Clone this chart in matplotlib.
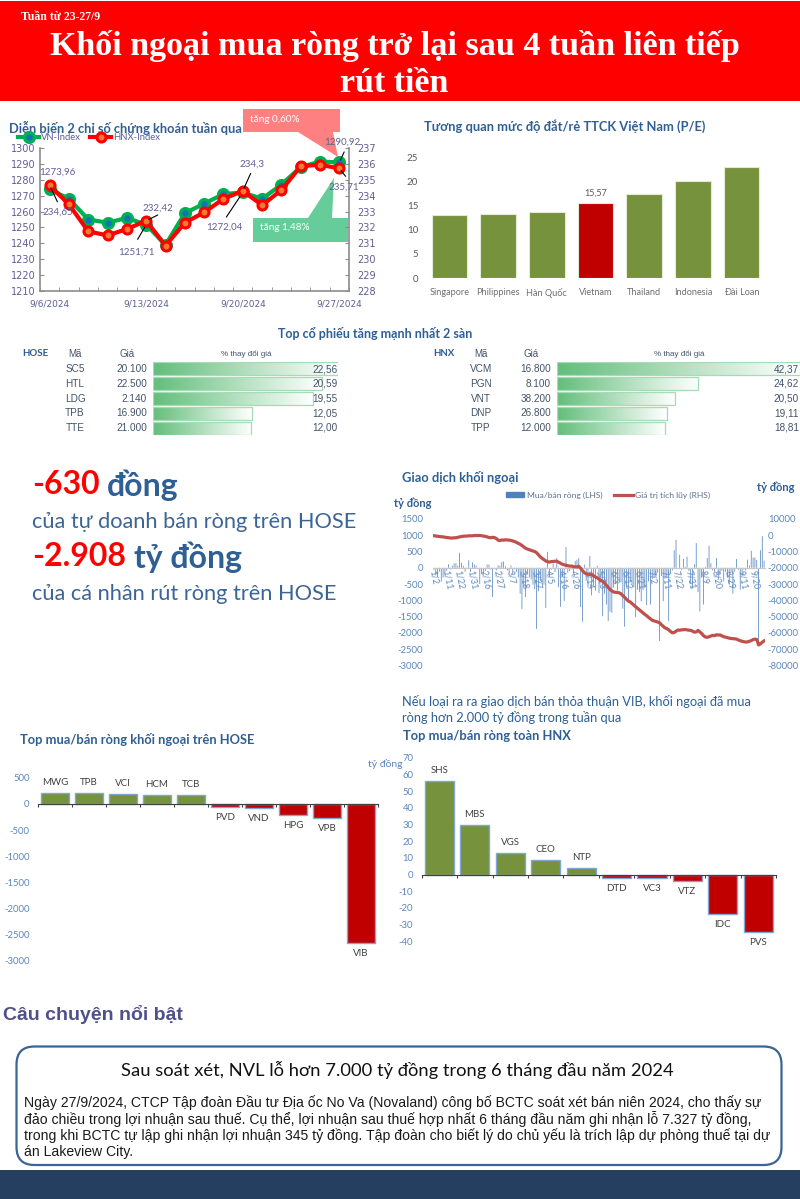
import matplotlib
matplotlib.use("Agg")
import matplotlib.pyplot as plt
import numpy as np
from matplotlib.colors import LinearSegmentedColormap
from matplotlib.patches import FancyBboxPatch

plt.rcParams["axes.unicode_minus"] = False

W, H = 800, 1199
SANS = ["Lato", "Open Sans", "DejaVu Sans"]
NAVY = "#2F5F94"
GREEN = "#76923C"
RED = "#C00000"
TICK_BLUE = "#5B86BD"

DATES = ["9/6/2024", "9/13/2024", "9/20/2024", "9/27/2024"]
VN_INDEX = [1273.96, 1268, 1255, 1253, 1256, 1251.71, 1239, 1259, 1265, 1271, 1272.04, 1268, 1277, 1288, 1291.5, 1290.92]
HNX_INDEX = [234.65, 233.45, 231.75, 231.5, 231.9, 232.42, 230.85, 232.3, 232.95, 233.8, 234.3, 233.4, 234.35, 235.85, 235.95, 235.71]

PE = {"Singapore": 13.0, "Philippines": 13.3, "Hàn Quốc": 13.6, "Vietnam": 15.57,
      "Thailand": 17.5, "Indonesia": 20.1, "Đài Loan": 23.0}

TOP_HOSE = [("SC5", "20.100", 22.56), ("HTL", "22.500", 20.59), ("LDG", "2.140", 19.55),
            ("TPB", "16.900", 12.05), ("TTE", "21.000", 12.00)]
TOP_HNX = [("VCM", "16.800", 42.37), ("PGN", "8.100", 24.62), ("VNT", "38.200", 20.50),
           ("DNP", "26.800", 19.11), ("TPP", "12.000", 18.81)]

NET_HOSE = {"MWG": 215, "TPB": 210, "VCI": 190, "HCM": 175, "TCB": 175,
            "PVD": -55, "VND": -80, "HPG": -220, "VPB": -265, "VIB": -2660}
NET_HNX = {"SHS": 56, "MBS": 29.5, "VGS": 13, "CEO": 9, "NTP": 4,
           "DTD": -2, "VC3": -2.3, "VTZ": -3.8, "IDC": -23.5, "PVS": -34.5}

FLOW_TICKS = ["1/2", "1/11", "1/22", "1/31", "2/16", "2/27", "3/7", "3/18", "3/27", "4/5", "4/16", "4/26", "5/14",
              "5/23", "6/3", "6/12", "6/21", "7/2", "7/11", "7/22", "7/31", "8/9", "8/20", "8/29", "9/11", "9/20"]
FLOW_NET = [-60, -230, -280, -120, -420, -300, -180, -90, 110, -50,
            60, 130, 140, 60, 460, 150, 60, -120, 10, 230,
            -130, 170, 100, 70, -30, -500, -200, -160, -100, 100,
            100, -60, -900, -30, -80, 70, 60, 180, 190, 50,
            -80, -150, 70, -190, -40, -130, -300, -800, -1270, -560,
            -900, -200, -300, -350, -520, -660, -1880, -720, -400, -500,
            -520, -1240, 490, -300, -60, 130, -130, 300, -600, -1200,
            -280, -1020, 640, -150, -100, -50, -180, 210, 250, 300,
            -1210, -1660, 100, -400, -600, 360, -850, -550, -700, 60,
            -780, -450, -1490, -800, -1130, -1640, -1350, -1380, -600, -500,
            -700, -400, -450, -1260, -1815, -550, -1060, -420, -500, -600,
            -1520, -680, -750, -1030, -680, -620, -1150, -420, -1130, -350,
            -300, -280, -150, -2250, -250, -1030, -340, -310, -1640, -200,
            -80, 540, 860, -30, 400, -60, 270, 30, 340, -100,
            -500, -640, 110, 760, -750, -1340, -300, -1130, 30, 300,
            680, 140, -80, -120, 300, -370, -200, -90, -420, -120,
            -300, -520, -100, -800, -120, 270, -60, -670, -250, -50,
            -80, 250, 70, 520, 310, 320, 240, -2400, 540, 970, 220]
FLOW_CUM = [-300, -500, -600, -800, -900, -1000, -1200, -1400, -1500, -1700,
            -1700, -1600, -1500, -1300, -1000, -800, -600, -500, -500, -300,
            -400, -300, -200, -100, -200, -100, -300, -500, -700, -1000,
            -1400, -1500, -1300, -1400, -2000, -3000, -3300, -2900, -3000, -2800,
            -2900, -3000, -3200, -3500, -3900, -4400, -5000, -5500, -6300, -7200,
            -8000, -8500, -8900, -9300, -9700, -10000, -10800, -12000, -13300, -14200,
            -15000, -15800, -16300, -16500, -16200, -16100, -16000, -16000, -16600, -17200,
            -17800, -18200, -18500, -18700, -19000, -18900, -19300, -19400, -19500, -19100,
            -20300, -21800, -23000, -23700, -23900, -24300, -24200, -24900, -25600, -26200,
            -27000, -27800, -28300, -29500, -30800, -32200, -33300, -34300, -34900, -35100,
            -35200, -35400, -36000, -37200, -38200, -39400, -40500, -41000, -42000, -43000,
            -44000, -44900, -45900, -46800, -47800, -48700, -49500, -50500, -51400, -52300,
            -52700, -53000, -53400, -53800, -55000, -56000, -57000, -57400, -58200, -59200,
            -60000, -59800, -59000, -58300, -58400, -58200, -58100, -58000, -58200, -58400,
            -58500, -59000, -59600, -59500, -58500, -59500, -60500, -61800, -62600, -62800,
            -62400, -62000, -61600, -61800, -61200, -61400, -61300, -61900, -62400, -62700,
            -63000, -63300, -63500, -63600, -63700, -63900, -64400, -64900, -65200, -65500,
            -65700, -65600, -65200, -64800, -64200, -63900, -64100, -67500, -66800, -65800, -65000]

BODY = ["Ngày 27/9/2024, CTCP Tập đoàn Đầu tư Địa ốc No Va (Novaland) công bố BCTC soát xét bán niên 2024, cho thấy sự",
        "đảo chiều trong lợi nhuận sau thuế. Cụ thể, lợi nhuận sau thuế hợp nhất 6 tháng đầu năm ghi nhận lỗ 7.327 tỷ đồng,",
        "trong khi BCTC tự lập ghi nhận lợi nhuận 345 tỷ đồng. Tập đoàn cho biết lý do chủ yếu là trích lập dự phòng thuế tại dự",
        "án Lakeview City."]


def axes_px(x0, y0, x1, y1):
    return plt.axes([x0 / W, 1 - y1 / H, (x1 - x0) / W, (y1 - y0) / H])


def label(x, y, s, **kw):
    kw.setdefault("va", "center")
    kw.setdefault("family", SANS)
    plt.figtext(x / W, 1 - y / H, s, **kw)


def note(i, v, s, line_end, text_at):
    # px offsets from the point: end of the leader line, centre of the text
    plt.annotate("", (i, v), xytext=line_end, textcoords="offset pixels",
                 arrowprops=dict(arrowstyle="-", color="black", lw=0.8))
    plt.annotate(s, (i, v), xytext=text_at, textcoords="offset pixels", ha="center", va="center",
                 fontsize=7, color="#5F5F97", family=SANS)


def index_chart():
    ax = axes_px(40, 148, 349, 291)
    ax.patch.set_alpha(0)
    vn, = plt.plot(VN_INDEX, color="#00B050", lw=3, marker="o", ms=7, mfc="#0F74BC", mec="#00B050", mew=2.4, label="VN-Index")
    plt.xlim(-0.5, 15.5)
    plt.ylim(1210, 1300)
    plt.yticks(range(1210, 1301, 10), fontsize=7, color="#5F5F97")
    plt.xticks([0, 5, 10, 15], DATES, fontsize=6.5, color="#5F5F97")
    ax.set_xticks(np.arange(-0.5, 16), minor=True)
    ax.tick_params(which="major", axis="x", length=0, pad=6)
    ax.tick_params(which="minor", axis="x", direction="in", length=3, color="#8C8C8C")
    ax.tick_params(axis="y", direction="in", length=3, color="#8C8C8C", pad=3)
    ax.spines["top"].set_visible(False)
    for side in ["left", "right", "bottom"]:
        ax.spines[side].set_color("#8C8C8C")
        ax.spines[side].set_linewidth(1.2)
    note(0, VN_INDEX[0], "1273,96", (6, 9), (8, 17))
    note(5, VN_INDEX[5], "1251,71", (-10, -17), (-10, -27))
    note(10, VN_INDEX[10], "1272,04", (-18, -27), (-18, -35))
    note(15, VN_INDEX[15], "1290,92", (6, 13), (3, 20))

    ax2 = plt.twinx()
    hnx, = plt.plot(HNX_INDEX, color="#FF0000", lw=3, marker="o", ms=6.5, mfc="#ED7D31", mec="#FF0000", mew=2.2, label="HNX-Index")
    plt.ylim(228, 237)
    plt.yticks(range(228, 238), fontsize=7, color="#5F5F97")
    ax2.tick_params(axis="y", direction="in", length=3, color="#8C8C8C", pad=6)
    ax2.spines["top"].set_visible(False)
    for side in ["left", "right", "bottom"]:
        ax2.spines[side].set_visible(False)
    note(0, HNX_INDEX[0], "234,65", (9, -19), (8, -27))
    note(5, HNX_INDEX[5], "232,42", (14, 7), (12, 13))
    note(10, HNX_INDEX[10], "234,3", (9, 20), (9, 27))
    note(15, HNX_INDEX[15], "235,71", (8, -10), (4, -19))
    plt.figlegend([vn, hnx], ["VN-Index", "HNX-Index"], loc="center", bbox_to_anchor=(89 / W, 1 - 137.5 / H), ncol=2, frameon=False,
                  labelcolor="#5F5F97", columnspacing=1.0, handlelength=2.2, handletextpad=0.2,
                  prop=dict(family=SANS, size=6.8))


def pe_chart():
    ax = axes_px(425, 157.3, 766, 278)
    names = list(PE)
    colors = [RED if n == "Vietnam" else GREEN for n in names]
    plt.bar(names, list(PE.values()), width=0.73, color=colors, edgecolor="#E4EAD8", lw=0.8)
    plt.xlim(-0.5, 6.5)
    plt.ylim(0, 25)
    plt.yticks(range(0, 26, 5), fontsize=7, color="#595959", family=SANS)
    plt.xticks(fontsize=6.6, color="#6F6F6F", family=SANS)
    ax.tick_params(length=0, pad=7)
    ax.tick_params(axis="y", pad=5)
    for side in ax.spines.values():
        side.set_visible(False)
    plt.annotate("15,57", (3, PE["Vietnam"]), xytext=(0, 7), textcoords="offset points", ha="center", va="center",
                 fontsize=6.5, color="#595959", family=SANS)


def top_table(rows, tag, x_tag, x_code, x_price, x_head, x_bar, bar_right, x_val):
    cmap = LinearSegmentedColormap.from_list("bar", ["#63BE7B", "#FFFFFF"])
    axes_px(x_bar, 361.6, bar_right, 435.4)
    top = rows[0][2]
    for i, (code, price, pct) in enumerate(rows):
        plt.imshow(np.linspace(0, 1, 128).reshape(1, -1), extent=(0, pct, i + 0.44, i - 0.44), aspect="auto", cmap=cmap, vmin=0, vmax=1)
        plt.barh(i, pct, height=0.88, fill=False, edgecolor="#A5DCB6", lw=0.9)
        y = 369 + 14.75 * i
        label(x_code, y, code, ha="center", fontsize=7.2, color="#44546A", family="Liberation Sans")
        label(x_price, y, price, ha="right", fontsize=7.2, color="#44546A", family="Liberation Sans")
        label(x_val, y, f"{pct:.2f}".replace(".", ","), ha="right", fontsize=7.2, color="#44546A", family="Liberation Sans")
    plt.xlim(0, top)
    plt.ylim(4.5, -0.5)
    plt.axis("off")
    label(x_tag, 354, tag, ha="center", fontsize=7, fontweight="bold", color="#2F5F94")
    label(x_code, 354, "Mã", ha="center", fontsize=7, color="#44546A", family="Liberation Sans")
    label(x_price - 20, 354, "Giá", ha="center", fontsize=7, color="#44546A", family="Liberation Sans")
    label(x_head, 354, "% thay đổi giá", ha="center", fontsize=5.8, color="#44546A", family="Liberation Sans")


def flow_chart():
    ax = axes_px(433, 519, 765, 665.3)
    ax.spines["bottom"].set_position(("data", 0))  # resets tick styles, so it goes first
    plt.bar(range(len(FLOW_NET)), FLOW_NET, width=0.4, color="#4F81BD", snap=False)
    plt.xlim(-0.5, len(FLOW_NET) - 0.5)
    plt.ylim(-3000, 1500)
    plt.yticks(range(-3000, 1501, 500), fontsize=6.8, color=TICK_BLUE, family=SANS)
    plt.xticks(range(0, 7 * len(FLOW_TICKS), 7), FLOW_TICKS, rotation=-78, fontsize=6.3, color=TICK_BLUE, family=SANS)
    ax.tick_params(length=0, pad=1)
    ax.tick_params(axis="y", pad=7)
    for side in ["top", "left", "right"]:
        ax.spines[side].set_visible(False)
    ax.spines["bottom"].set_color("#C8C8C8")
    ax2 = plt.twinx()
    plt.plot(FLOW_CUM, color="#C0504D", lw=2.3)
    plt.ylim(-80000, 10000)
    plt.yticks(range(-80000, 10001, 10000), fontsize=6.8, color=TICK_BLUE, family=SANS)
    ax2.tick_params(length=0, pad=2)
    for side in ax2.spines.values():
        side.set_visible(False)
    # legend of the two series
    handles = [plt.Rectangle((0, 0), 1, 1, color="#4F81BD"), plt.Line2D([], [], color="#C0504D", lw=2.3)]
    plt.figlegend(handles, ["Mua/bán ròng (LHS)", "Giá trị tích lũy (RHS)"], loc="center", bbox_to_anchor=(608 / W, 1 - 495 / H), ncol=2,
                  frameon=False, labelcolor="#5F6F8F", handlelength=2.2, handleheight=0.5, handletextpad=0.3, columnspacing=1.4,
                  prop=dict(family=SANS, size=6.1))


def net_chart(data, box, ylim, step):
    ax = axes_px(*box)
    ax.spines["bottom"].set_position(("data", 0))
    names = list(data)
    vals = list(data.values())
    colors = [GREEN if v > 0 else RED for v in vals]
    plt.bar(names, vals, width=0.82, color=colors, edgecolor="#7FA6D6", lw=1)
    for i, v in enumerate(vals):
        plt.annotate(names[i], (i, v), xytext=(0, 7.5 if v > 0 else -7.5), textcoords="offset points", ha="center", va="center",
                     fontsize=7, color="#404040", family=SANS)
    plt.xlim(-0.5, len(vals) - 0.5)
    plt.ylim(*ylim)
    plt.yticks(range(ylim[0], ylim[1] + 1, step), fontsize=6.8, color=TICK_BLUE, family=SANS)
    ax.set_xticks(np.arange(-0.5, len(vals)))
    ax.set_xticklabels([])
    ax.tick_params(axis="x", direction="out", length=2.5, color="#404040")
    ax.tick_params(axis="y", length=0, pad=6)
    for side in ["top", "left", "right"]:
        ax.spines[side].set_visible(False)
    ax.spines["bottom"].set_color("#404040")


def furniture():
    ax = axes_px(0, 0, W, H)
    plt.xlim(0, W)
    plt.ylim(H, 0)
    plt.axis("off")
    plt.fill([0, W, W, 0], [1, 1, 101, 101], color="#FF0000", lw=0)
    plt.fill([0, W, W, 0], [1170, 1170, H, H], color="#243F60", lw=0)
    plt.fill([243, 340, 340, 333, 338, 298, 243], [109, 109, 132, 132, 157, 132, 132], color="#FF8080", lw=0)
    plt.fill([253, 308, 334, 332, 348, 348, 253], [218, 218, 178, 218, 218, 242, 242], color="#66CC99", lw=0)
    ax.add_patch(FancyBboxPatch((16.5, 1046.5), 765, 118.5, boxstyle="round,pad=0,rounding_size=18", fc="white", ec="#3A6494", lw=1.6))
    ax.set_zorder(-1)


def main():
    plt.figure(figsize=(W / 100, H / 100), dpi=100)

    index_chart()
    pe_chart()
    top_table(TOP_HOSE, "HOSE", 35, 75, 147, 246, 153, 338, 338)
    top_table(TOP_HNX, "HNX", 444, 481, 551, 679, 557, 800, 799)
    flow_chart()
    net_chart(NET_HOSE, (38, 777.7, 378, 961), (-3000, 500), 500)
    net_chart(NET_HNX, (421.7, 757.7, 776, 941.3), (-40, 70), 10)
    furniture()

    label(21, 17, "Tuần từ 23-27/9", fontsize=8.5, fontweight="bold", color="white", family="Liberation Serif")
    label(394.5, 46, "Khối ngoại mua ròng trở lại sau 4 tuần liên tiếp", ha="center", fontsize=24.5, fontweight="bold", color="white", family="Liberation Serif")
    label(394.5, 83, "rút tiền", ha="center", fontsize=24.5, fontweight="bold", color="white", family="Liberation Serif")

    label(9, 128, "Diễn biến 2 chỉ số chứng khoán tuần qua", fontsize=9.3, fontweight="bold", color=NAVY)
    label(424, 126, "Tương quan mức độ đắt/rẻ TTCK Việt Nam (P/E)", fontsize=9.3, fontweight="bold", color=NAVY)
    label(375, 333, "Top cổ phiếu tăng mạnh nhất 2 sàn", ha="center", fontsize=9, fontweight="bold", color=NAVY)
    label(402, 478, "Giao dịch khối ngoại", fontsize=9.3, fontweight="bold", color=NAVY)
    label(394, 503, "tỷ đồng", fontsize=8, fontweight="bold", color=NAVY)
    label(757, 487, "tỷ đồng", fontsize=8, fontweight="bold", color=NAVY)
    label(20, 739, "Top mua/bán ròng khối ngoại trên HOSE", fontsize=9.3, fontweight="bold", color=NAVY)
    label(403, 736, "Top mua/bán ròng toàn HNX", fontsize=9.3, fontweight="bold", color=NAVY)
    label(368, 764, "tỷ đồng", fontsize=7.5, color=TICK_BLUE)

    label(275, 120, "tăng 0,60%", ha="center", fontsize=7.2, color="white")
    label(285, 228, "tăng 1,48%", ha="center", fontsize=7.2, color="white")

    label(32, 485, "-630", fontsize=23, fontweight="bold", color="#FF0000")
    label(107, 485, "đồng", fontsize=23, fontweight="bold", color=NAVY)
    label(32, 522, "của tự doanh bán ròng trên HOSE", fontsize=15.7, color="#3B6596")
    label(32, 557, "-2.908", fontsize=23, fontweight="bold", color="#FF0000")
    label(134, 557, "tỷ đồng", fontsize=23, fontweight="bold", color=NAVY)
    label(32, 594, "của cá nhân rút ròng trên HOSE", fontsize=15.7, color="#3B6596")

    label(402, 701, "Nếu loại ra ra giao dịch bán thỏa thuận VIB, khối ngoại đã mua", fontsize=9.3, color=NAVY)
    label(402, 717, "ròng hơn 2.000 tỷ đồng trong tuần qua", fontsize=9.3, color=NAVY)

    label(3, 1014, "Câu chuyện nổi bật", fontsize=14, fontweight="bold", color="#4F4F8B", family="Liberation Sans")
    label(397, 1070, "Sau soát xét, NVL lỗ hơn 7.000 tỷ đồng trong 6 tháng đầu năm 2024", ha="center", fontsize=13.2, color="#111111")
    for i, line in enumerate(BODY):
        label(24, 1103 + 16.3 * i, line, fontsize=10.1, color="#1A1A1A", family="Liberation Sans")

    plt.savefig("out.png", dpi=100)


if __name__ == "__main__":
    main()
